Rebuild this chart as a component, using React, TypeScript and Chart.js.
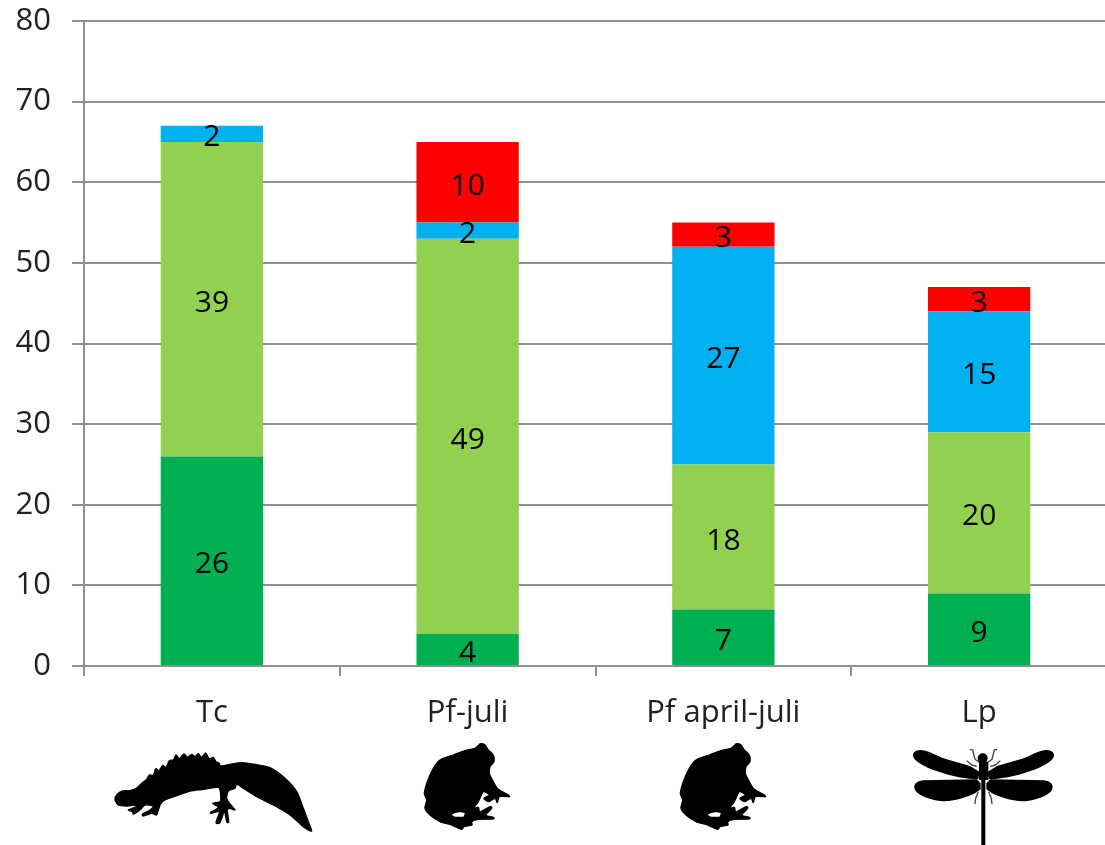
import React, { useEffect, useRef } from "react";
import { Chart, registerables } from "chart.js";

Chart.register(...registerables);

const categories = ["Tc", "Pf-juli", "Pf april-juli", "Lp"];
const darkGreen = [26, 4, 7, 9];
const lightGreen = [39, 49, 18, 20];
const blue = [2, 2, 27, 15];
const red = [null, 10, 3, 3];

const FONT = '"Open Sans", sans-serif';
const AXIS_GREY = "#8f8f8f";

// Silhouette outlines, kept at three times their drawn size.
const NEWT =
  "75,208 80,195 98,183 120,182 140,174 155,160 170,148 178,135 190,136 197,116 207,122 218,106 228,112 238,92 250,90 258,75 268,85 282,72 292,82 305,73 315,80 325,71 335,82 347,69 357,86 370,82 378,95 388,100 392,108 420,103 455,98 500,104 540,113 585,145 620,185 640,235 655,275 665,303 640,290 600,255 550,225 500,200 465,178 440,163 435,175 415,183 410,205 420,222 435,240 420,235 412,240 416,275 410,275 403,245 390,278 378,278 388,245 365,250 362,247 385,232 368,220 390,215 392,195 385,172 340,178 300,183 260,197 225,210 212,222 205,240 200,255 185,250 160,258 158,252 180,240 190,228 165,225 150,240 130,252 128,245 115,240 135,232 145,225 110,228 85,225";
const FROG =
  "1170,42 1185,45 1195,60 1210,75 1212,95 1200,110 1198,130 1210,155 1225,178 1255,195 1257,200 1228,200 1222,218 1215,205 1195,215 1182,205 1198,195 1180,185 1165,215 1150,235 1165,232 1170,245 1200,230 1205,235 1188,255 1210,262 1208,267 1165,268 1145,275 1146,285 1122,290 1115,298 1085,285 1050,275 1020,255 1005,235 1010,210 1003,190 1012,155 1030,115 1050,90 1090,75 1125,62 1155,55";
const FROG_GAP = "M1085 255 C1095 245 1115 245 1125 250 L1120 260 L1095 260 Z";
const DRAGONFLY_WINGS =
  "M958 125 L930 108 L850 85 C820 72 800 60 782 60 C765 60 755 70 760 82 C768 98 800 115 850 130 C880 140 920 147 955 148 Z M950 148 L790 151 C768 153 760 165 764 177 C768 192 800 208 840 213 C880 217 925 200 945 190 L962 178 L962 160 Z";
const DRAGONFLY_LEGS =
  "M957 97 L945 88 L938 60 L930 58 M950 110 L935 105 L920 92 M955 185 L947 205 L945 222";

// Closed Catmull-Rom spline through a list of "x,y" pairs.
function outline(source: string) {
  const pts = source.split(" ").map((p) => p.split(",").map(Number));
  const n = pts.length;
  const path = new Path2D();
  path.moveTo(pts[0][0], pts[0][1]);
  for (let i = 0; i < n; i++) {
    const [p0, p1, p2, p3] = [pts[(i + n - 1) % n], pts[i], pts[(i + 1) % n], pts[(i + 2) % n]];
    const k = 1 / 8;
    path.bezierCurveTo(
      p1[0] + (p2[0] - p0[0]) * k,
      p1[1] + (p2[1] - p0[1]) * k,
      p2[0] - (p3[0] - p1[0]) * k,
      p2[1] - (p3[1] - p1[1]) * k,
      p2[0],
      p2[1]
    );
  }
  path.closePath();
  return path;
}

function drawIcons(ctx: CanvasRenderingContext2D) {
  ctx.save();
  ctx.fillStyle = "#000";
  ctx.strokeStyle = "#000";
  ctx.lineJoin = "round";
  const place = (dx: number, dy: number) => {
    ctx.setTransform(1 / 3, 0, 0, 1 / 3, dx, dy);
  };
  const solid = (path: Path2D) => {
    ctx.fill(path);
    ctx.lineWidth = 4;
    ctx.stroke(path);
  };
  place(90, 730);
  solid(outline(NEWT));

  const frog = outline(FROG);
  const gap = new Path2D(FROG_GAP);
  for (const dx of [90, 346]) {
    place(dx, 730);
    solid(frog);
    ctx.fillStyle = "#fff";
    ctx.fill(gap);
    ctx.fillStyle = "#000";
  }

  place(660, 730);
  const wings = new Path2D(DRAGONFLY_WINGS);
  const legs = new Path2D(DRAGONFLY_LEGS);
  const halfDragonfly = () => {
    ctx.fill(wings);
    ctx.strokeStyle = "#444";
    ctx.lineWidth = 4;
    ctx.stroke(legs);
  };
  halfDragonfly();
  ctx.transform(-1, 0, 0, 1, 1941, 0);
  halfDragonfly();
  place(660, 730);
  ctx.beginPath();
  ctx.arc(968, 85, 15, 0, Math.PI * 2);
  ctx.fill();
  ctx.fillRect(957, 95, 28, 55);
  ctx.fillRect(964, 150, 12, 195);
  ctx.restore();
}

const overlay = {
  id: "overlay",
  afterDatasetsDraw(chart: Chart) {
    const ctx = chart.ctx;
    ctx.save();
    ctx.fillStyle = "#000";
    ctx.font = `30px ${FONT}`;
    ctx.textAlign = "center";
    ctx.textBaseline = "middle";
    chart.data.datasets.forEach((ds, d) => {
      chart.getDatasetMeta(d).data.forEach((bar: any, i) => {
        const v = ds.data[i];
        if (v == null) return;
        const { x, y, base } = bar.getProps(["x", "y", "base"], true);
        ctx.fillText(String(v), x, (y + base) / 2 + 4);
      });
    });
    ctx.restore();
    drawIcons(ctx);
  },
};

export default function App() {
  const ref = useRef<HTMLCanvasElement>(null);

  useEffect(() => {
    document.body.style.margin = "0";
    document.body.style.background = "#fff";
    const bar = { barPercentage: 0.4, categoryPercentage: 1 };
    const chart = new Chart(ref.current!, {
      type: "bar",
      data: {
        labels: categories,
        datasets: [
          { label: "a", data: darkGreen, backgroundColor: "#00B050", ...bar },
          { label: "b", data: lightGreen, backgroundColor: "#92D050", ...bar },
          { label: "c", data: blue, backgroundColor: "#00B0F0", ...bar },
          { label: "d", data: red, backgroundColor: "#FF0000", ...bar },
        ],
      },
      options: {
        responsive: false,
        animation: false,
        layout: { padding: { top: 21, right: 8, left: 0, bottom: 0 } },
        plugins: { legend: { display: false }, tooltip: { enabled: false } },
        scales: {
          x: {
            stacked: true,
            grid: { drawOnChartArea: false, color: AXIS_GREY, lineWidth: 2, tickLength: 10 },
            border: { color: AXIS_GREY, width: 2 },
            ticks: { color: "#222", font: { family: FONT, size: 31 }, padding: 19, maxRotation: 0 },
            afterFit: (s: any) => {
              s.height = 179;
            },
          },
          y: {
            stacked: true,
            min: 0,
            max: 80,
            grid: { color: AXIS_GREY, lineWidth: 2, tickLength: 12 },
            border: { color: AXIS_GREY, width: 2 },
            ticks: { stepSize: 10, color: "#222", font: { family: FONT, size: 31 }, padding: 21 },
            afterFit: (s: any) => {
              s.width = 84;
              s.paddingTop = 0;
              s.paddingBottom = 0;
            },
          },
        },
      },
      plugins: [overlay],
    });
    return () => chart.destroy();
  }, []);

  return (
    <div style={{ position: "fixed", left: 0, top: 0, width: 1105, height: 845, overflow: "hidden" }}>
      <canvas ref={ref} width={1115} height={845} style={{ display: "block" }} />
    </div>
  );
}
